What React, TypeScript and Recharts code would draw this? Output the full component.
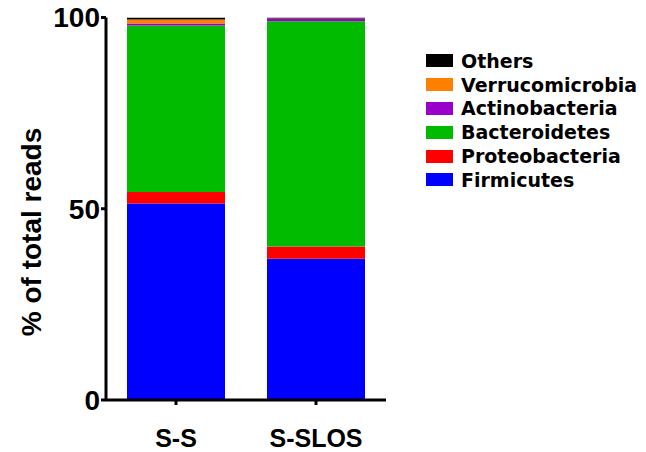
import React from "react";
import { Bar, BarChart, XAxis, YAxis } from "recharts";

const groups = ["S-S", "S-SLOS"];
const phyla = ["Firmicutes", "Proteobacteria", "Bacteroidetes", "Actinobacteria", "Verrucomicrobia", "Others"];
const colors = ["#0000ff", "#ff0000", "#00bb00", "#9900cc", "#ff8000", "#000000"];

const firmicutes = [51.4, 36.9];
const proteobacteria = [3.0, 3.2];
const bacteroidetes = [43.5, 58.9];
const actinobacteria = [0.5, 0.7];
const verrucomicrobia = [1.1, 0.05];
const others = [0.5, 0.25];

const yTicks = [0, 50, 100];

const series = [firmicutes, proteobacteria, bacteroidetes, actinobacteria, verrucomicrobia, others];

const data = groups.map((g, i) => {
  const row: Record<string, string | number> = { group: g };
  phyla.forEach((p, j) => {
    row[p] = series[j][i];
  });
  return row;
});

const legendFont = "'DejaVu Sans', Verdana, sans-serif";
const axisFont = "'Liberation Sans', Arial, sans-serif";

// legend lists the top of the stack first
function PhylaLegend() {
  const items = phyla.map((p, i) => ({ name: p, color: colors[i] })).reverse();
  return (
    <div
      style={{
        position: "absolute",
        left: 426,
        top: 49,
        fontFamily: legendFont,
        fontWeight: "bold",
        fontSize: 19,
      }}
    >
      {items.map((it) => (
        <div key={it.name} style={{ display: "flex", alignItems: "center", height: 23.8 }}>
          <span style={{ display: "inline-block", width: 27, height: 13, background: it.color, marginRight: 8 }} />
          <span style={{ color: "#000", lineHeight: "20px", whiteSpace: "nowrap" }}>{it.name}</span>
        </div>
      ))}
    </div>
  );
}

function YLabel() {
  return (
    <text
      x={31}
      y={232}
      transform="rotate(-90 31 232)"
      textAnchor="middle"
      dominantBaseline="central"
      fontFamily={axisFont}
      fontWeight="bold"
      fontSize={28}
      fill="#000"
    >
      % of total reads
    </text>
  );
}

export default function App() {
  return (
    <div style={{ position: "absolute", left: 0, top: 0, width: 646, height: 452, background: "#fff" }}>
      <BarChart
        width={646}
        height={452}
        data={data}
        margin={{ top: 17.5, right: 260, bottom: 0, left: 0 }}
        barCategoryGap={42}
      >
        <XAxis
          dataKey="group"
          height={52}
          axisLine={{ stroke: "#000", strokeWidth: 3 }}
          tickLine={{ stroke: "#000", strokeWidth: 3 }}
          tickSize={5}
          tickMargin={24}
          tick={{ fill: "#000", fontFamily: axisFont, fontWeight: "bold", fontSize: 25 }}
        />
        <YAxis
          width={106}
          domain={[0, 100]}
          ticks={yTicks}
          allowDataOverflow
          axisLine={{ stroke: "#000", strokeWidth: 3 }}
          tickLine={{ stroke: "#000", strokeWidth: 3 }}
          tickSize={5}
          tickMargin={1}
          tick={{ fill: "#000", fontFamily: axisFont, fontWeight: "bold", fontSize: 28 }}
          label={<YLabel />}
        />
        {phyla.map((p, i) => (
          <Bar key={p} dataKey={p} stackId="a" fill={colors[i]} barSize={98} isAnimationActive={false} />
        ))}
      </BarChart>
      <PhylaLegend />
    </div>
  );
}
